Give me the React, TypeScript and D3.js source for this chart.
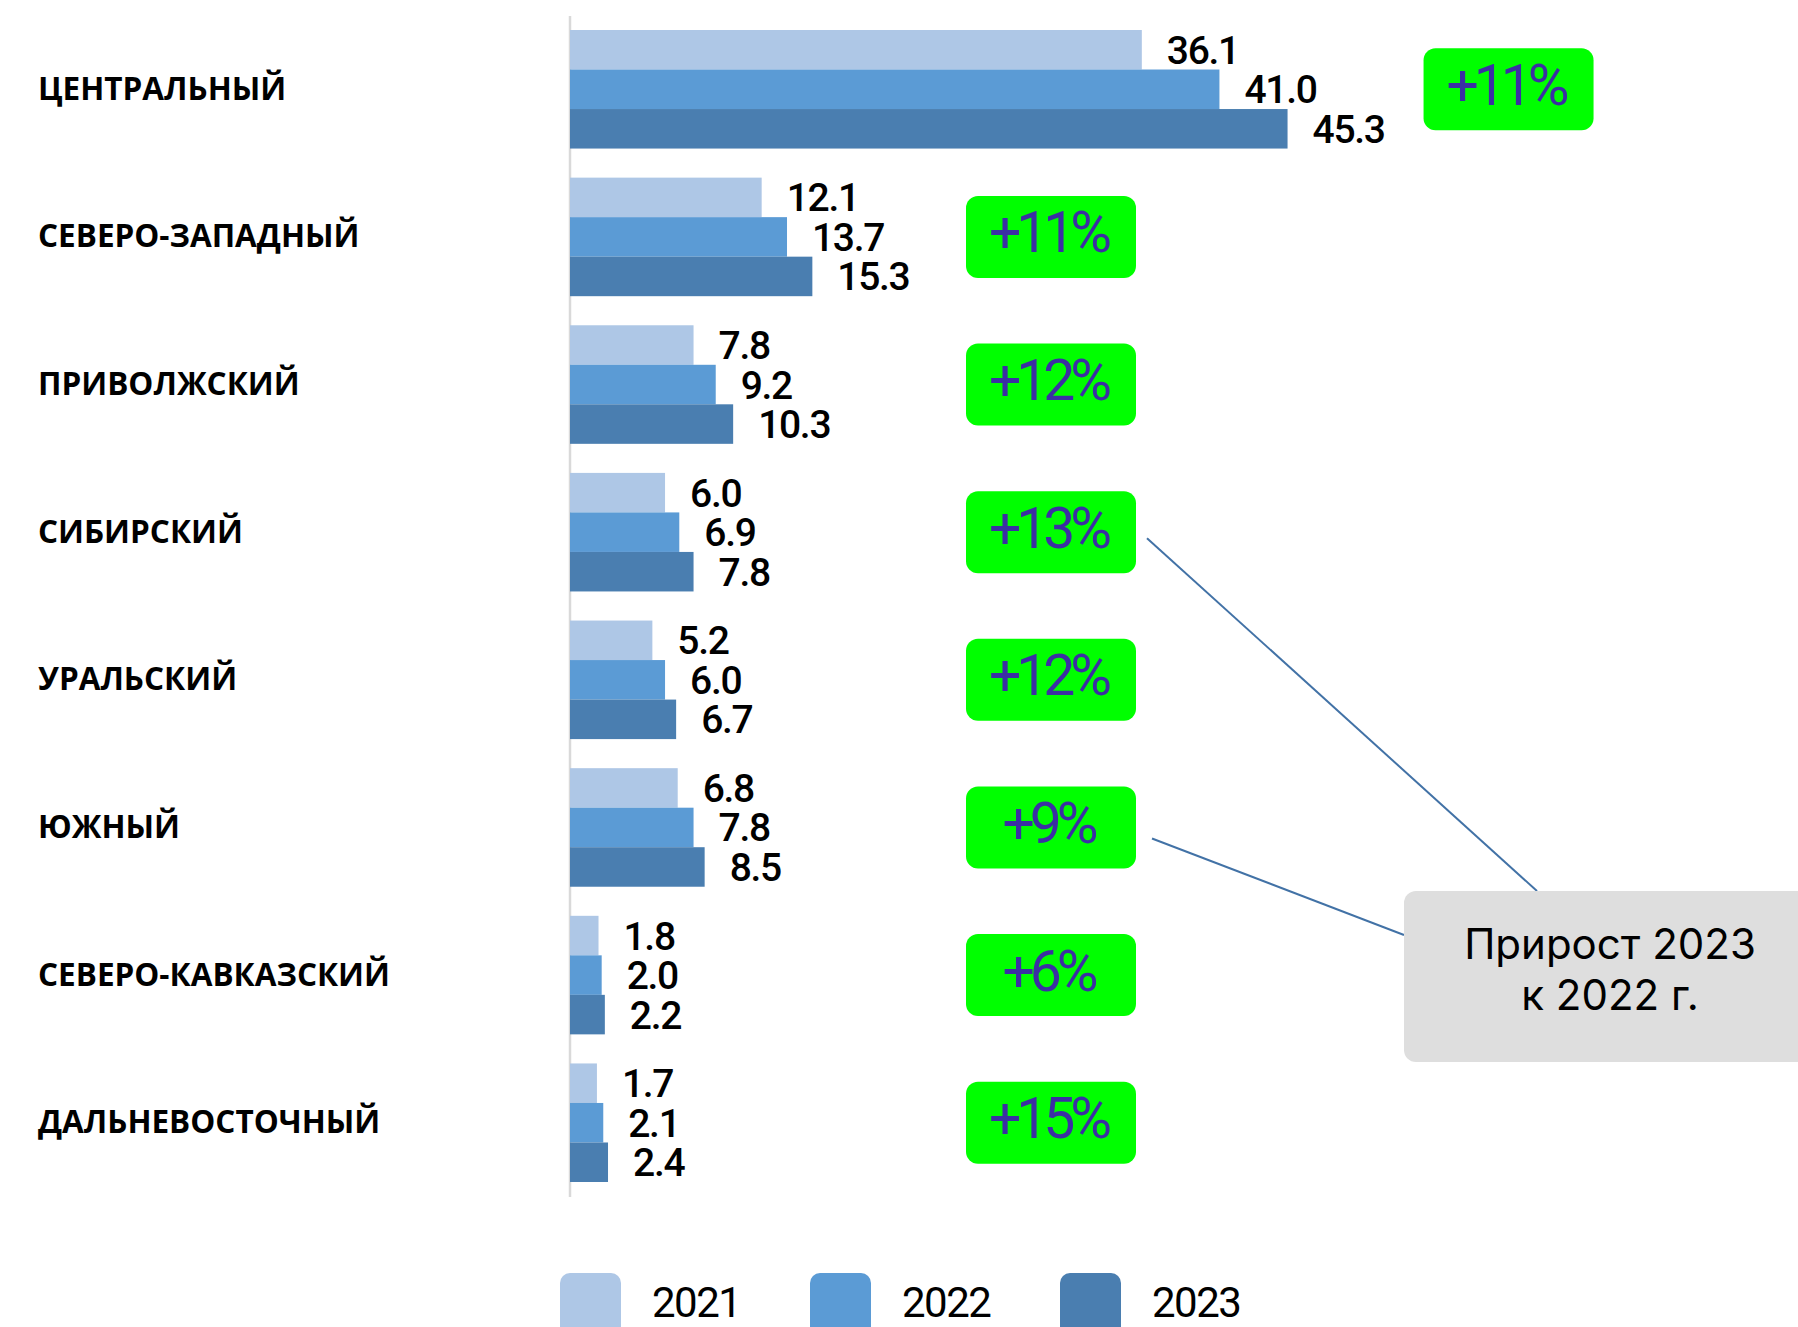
import React from "react";
import * as d3 from "d3";

const categories = [
  "ЦЕНТРАЛЬНЫЙ",
  "СЕВЕРО-ЗАПАДНЫЙ",
  "ПРИВОЛЖСКИЙ",
  "СИБИРСКИЙ",
  "УРАЛЬСКИЙ",
  "ЮЖНЫЙ",
  "СЕВЕРО-КАВКАЗСКИЙ",
  "ДАЛЬНЕВОСТОЧНЫЙ",
];
const years = ["2021", "2022", "2023"];
const values2021 = [36.1, 12.1, 7.8, 6.0, 5.2, 6.8, 1.8, 1.7];
const values2022 = [41.0, 13.7, 9.2, 6.9, 6.0, 7.8, 2.0, 2.1];
const values2023 = [45.3, 15.3, 10.3, 7.8, 6.7, 8.5, 2.2, 2.4];
const growth = ["+11%", "+11%", "+12%", "+13%", "+12%", "+9%", "+6%", "+15%"];
const calloutLines = ["Прирост 2023", "к 2022 г."];
const calloutTargets = [3, 5];

const colors = ["#aec7e6", "#5b9bd5", "#4a7eb0"];
const W = 1798;
const H = 1327;

export default function App() {
  const series = [values2021, values2022, values2023];
  const y = d3.scaleBand<string>().domain(categories).range([30, 1182]).paddingInner(0.197).paddingOuter(0);
  const ySub = d3.scaleBand<string>().domain(years).range([0, y.bandwidth()]);
  const x = d3.scaleLinear().domain([0, 50]).range([570, 570 + 50 * 15.84]);

  const badgeW = 170;
  const badgeH = 82;
  const badgeX = (i: number) => Math.max(966, x(values2023[i]) + 136);
  const badgeCy = (i: number) => (y(categories[i]) as number) + y.bandwidth() / 2;

  const box = { x: 1404, y: 891, w: 440, h: 171 };

  const valueFont = "Roboto, 'DejaVu Sans', sans-serif";

  return (
    <svg width={W} height={H} style={{ position: "absolute", left: 0, top: 0, background: "#fff" }}>
      <rect x={0} y={0} width={W} height={H} fill="#ffffff" />
      {/* axis line */}
      <line x1={x(0)} x2={x(0)} y1={16} y2={1197} stroke="#d9d9d9" strokeWidth={2.5} />

      {categories.map((c, i) => {
        const gy = y(c) as number;
        return (
          <g key={c}>
            <text
              x={38}
              y={gy + y.bandwidth() / 2 - 2}
              dominantBaseline="central"
              fontFamily="'Open Sans', 'DejaVu Sans', sans-serif"
              fontWeight={700}
              fontSize={31.5}
              fill="#000"
            >
              {c}
            </text>
            {years.map((yr, k) => {
              const v = series[k][i];
              const by = gy + (ySub(yr) as number);
              return (
                <g key={yr}>
                  <rect x={x(0)} y={by} width={x(v) - x(0)} height={ySub.bandwidth()} fill={colors[k]} />
                  <text
                    x={x(v) + 25}
                    y={by + ySub.bandwidth() / 2 + 1}
                    dominantBaseline="central"
                    fontFamily={valueFont}
                    fontWeight={500}
                    fontSize={39}
                    letterSpacing={-1.3}
                    fill="#000"
                  >
                    {v.toFixed(1)}
                  </text>
                </g>
              );
            })}
            <rect
              x={badgeX(i)}
              y={badgeCy(i) - badgeH / 2}
              width={badgeW}
              height={badgeH}
              rx={12}
              fill="#00ff00"
            />
            <text
              x={badgeX(i) + badgeW / 2 - 3}
              y={badgeCy(i) - 4}
              textAnchor="middle"
              dominantBaseline="central"
              fontFamily={valueFont}
              fontWeight={400}
              fontSize={57}
              letterSpacing={-5}
              fill="#3b2fa3"
            >
              {growth[i]}
            </text>
          </g>
        );
      })}

      {/* leader lines */}
      {calloutTargets.map((ti, j) => {
        const sx = badgeX(ti) + badgeW + (j === 0 ? 11 : 16);
        const sy = badgeCy(ti) + (j === 0 ? 6 : 11);
        const ex = j === 0 ? 1537 : box.x;
        const ey = j === 0 ? box.y : 935;
        return <line key={ti} x1={sx} y1={sy} x2={ex} y2={ey} stroke="#4272a6" strokeWidth={2} />;
      })}

      {/* callout box */}
      <rect x={box.x} y={box.y} width={box.w} height={box.h} rx={12} fill="#dedede" />
      {calloutLines.map((t, i) => (
        <text
          key={t}
          x={1610}
          y={959 + i * 51}
          textAnchor="middle"
          fontFamily="Inter, Roboto, sans-serif"
          fontSize={42}
          fill="#000"
        >
          {t}
        </text>
      ))}

      {/* legend */}
      {years.map((yr, k) => {
        const lx = 560 + k * 250;
        return (
          <g key={yr}>
            <rect x={lx} y={1273} width={61} height={80} rx={10} fill={colors[k]} />
            <text
              x={lx + 92}
              y={1317}
              fontFamily={valueFont}
              fontWeight={400}
              fontSize={42}
              letterSpacing={-1.5}
              fill="#000"
            >
              {yr}
            </text>
          </g>
        );
      })}
    </svg>
  );
}
